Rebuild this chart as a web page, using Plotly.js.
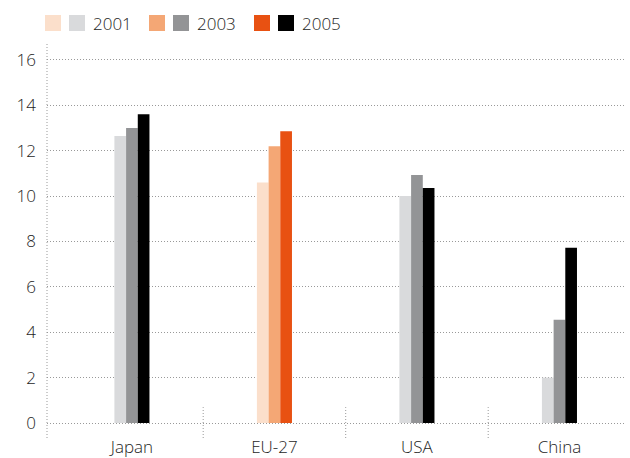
<!DOCTYPE html>
<html><head><meta charset="utf-8">
<script src="https://cdn.plot.ly/plotly-3.0.1.min.js"></script>
<style>html,body{margin:0;padding:0;background:#fff}#chart{width:630px;height:458px}</style>
</head><body><div id="chart"></div>
<script>
const categories = ["Japan", "EU-27", "USA", "China"];
const years = ["2001", "2003", "2005"];
const values2001 = [12.65, 10.6, 10.0, 2.0];
const values2003 = [13.0, 12.2, 10.93, 4.55];
const values2005 = [13.6, 12.86, 10.35, 7.72];
const greyColors = ["#d9dadc", "#939496", "#000000"];
const orangeColors = ["#fbdfcb", "#f4a775", "#e85112"];
const highlight = "EU-27";
const yTicks = [0, 2, 4, 6, 8, 10, 12, 14, 16];

const series = [values2001, values2003, values2005];
const traces = series.map((vals, i) => ({
  type: "bar",
  name: years[i],
  x: categories,
  y: vals,
  marker: { color: categories.map(c => c === highlight ? orangeColors[i] : greyColors[i]), line: { width: 0 } },
  showlegend: false,
  hoverinfo: "x+y"
}));

const W = 630, H = 458;
const mL = 47, mR = 5, mT = 44, mB = 20;
const pw = W - mL - mR, ph = H - mT - mB;
const px = v => (v - mL) / pw;
const py = v => (H - mB - v) / ph;
const dotLine = { color: "#999999", width: 1, dash: "1px,2px" };
const txtFont = { family: "Open Sans, sans-serif", size: 17, color: "#1e1e1e", weight: 300 };

const shapes = [];
const annotations = [];
// y axis dotted line
shapes.push({ type: "line", xref: "paper", yref: "paper", x0: 0, x1: 0, y0: 0, y1: 1, line: dotLine });
// category dividers
for (let i = 0; i < categories.length - 1; i++) {
  shapes.push({ type: "line", xref: "x", yref: "y", x0: i + 0.5, x1: i + 0.5, y0: -0.66, y1: 0.7, line: dotLine });
}
// custom legend
const legX = [45, 149, 254];
years.forEach((yr, i) => {
  const x0 = legX[i];
  shapes.push({ type: "rect", xref: "paper", yref: "paper", x0: px(x0), x1: px(x0 + 16), y0: py(31), y1: py(15),
    fillcolor: orangeColors[i], line: { width: 0 } });
  shapes.push({ type: "rect", xref: "paper", yref: "paper", x0: px(x0 + 24), x1: px(x0 + 40), y0: py(31), y1: py(15),
    fillcolor: greyColors[i], line: { width: 0 } });
  annotations.push({ xref: "paper", yref: "paper", x: px(x0 + 46), y: py(23), xanchor: "left", yanchor: "middle",
    text: yr, showarrow: false, font: txtFont });
});

const layout = {
  width: W, height: H,
  margin: { l: mL, r: mR, t: mT, b: mB, pad: 0 },
  paper_bgcolor: "#fff", plot_bgcolor: "#fff",
  barmode: "group", bargap: 0.754, bargroupgap: 0,
  font: txtFont,
  xaxis: { type: "category", range: [-0.596, 3.46], showgrid: false, zeroline: false, showline: false,
    ticks: "", ticklabelstandoff: -3, tickfont: txtFont, automargin: false, fixedrange: true },
  yaxis: { range: [-0.66, 16.7], tickvals: yTicks, ticktext: yTicks.map(String), showgrid: true,
    gridcolor: "#999999", gridwidth: 1, griddash: "1px,2px", zeroline: false, showline: false,
    ticks: "", ticklabelstandoff: 10, tickfont: txtFont, automargin: false, fixedrange: true },
  shapes: shapes,
  annotations: annotations,
  showlegend: false
};
Plotly.newPlot("chart", traces, layout, { displayModeBar: false, staticPlot: true });
</script></body></html>
